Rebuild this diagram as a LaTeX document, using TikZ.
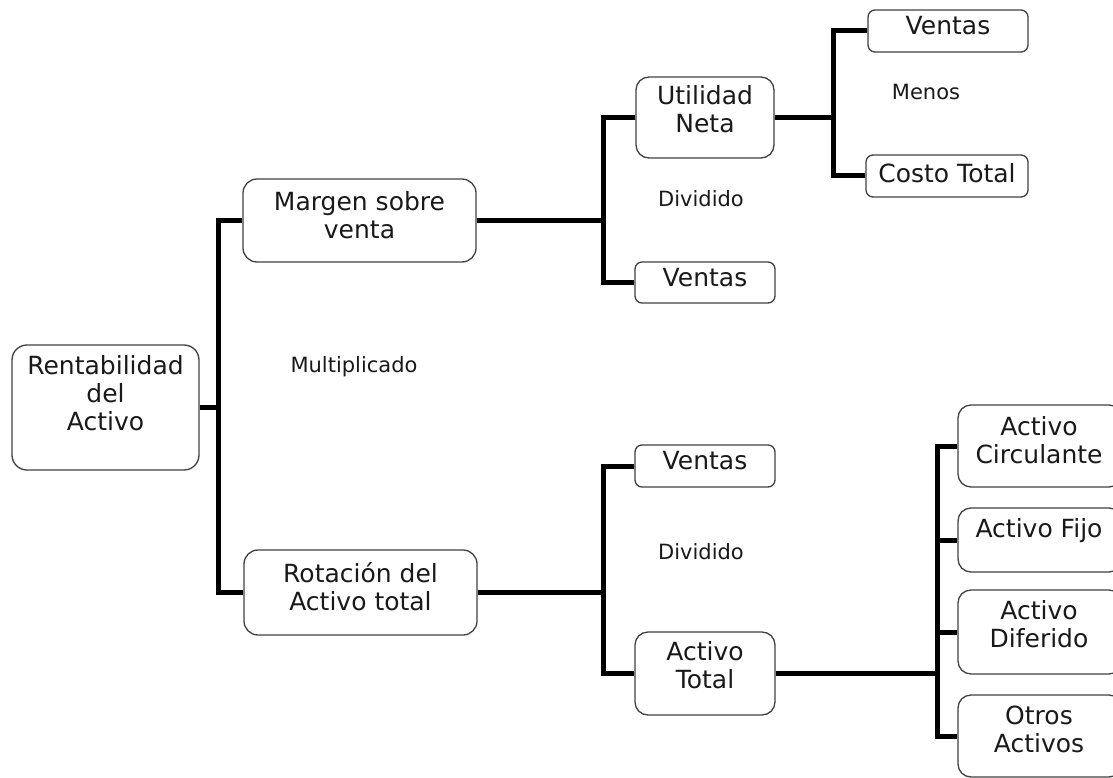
\documentclass[tikz,border=0pt]{standalone}
\usepackage{fontspec}
\setmainfont{DejaVu Sans}
\begin{document}
\begin{tikzpicture}[x=1pt,y=-1pt,
  box/.style={draw=black!75,line width=1.3pt,inner sep=0pt,rectangle},
  txt/.style={inner sep=0pt,anchor=north,align=center,font=\fontsize{25}{28}\selectfont,text=black!90},
  lbl/.style={inner sep=0pt,anchor=base,font=\fontsize{21}{24}\selectfont,text=black!90},
  conn/.style={line width=5pt,black}]
\useasboundingbox (0,0) rectangle (1113,778);
\clip (0,0) rectangle (1113,778);
% boxes
\node[box,rounded corners=15pt,minimum width=187pt,minimum height=125pt] (rent) at (105.5,407.5) {};
\node[box,rounded corners=14pt,minimum width=233pt,minimum height=83pt] (margen) at (359.5,220.5) {};
\node[box,rounded corners=14pt,minimum width=233pt,minimum height=85pt] (rot) at (360.5,592.5) {};
\node[box,rounded corners=13pt,minimum width=138pt,minimum height=81pt] (util) at (705,117.5) {};
\node[box,rounded corners=7pt,minimum width=140pt,minimum height=41pt] (ventasA) at (705,282.5) {};
\node[box,rounded corners=7pt,minimum width=140pt,minimum height=42pt] (ventasB) at (705,466) {};
\node[box,rounded corners=13pt,minimum width=140pt,minimum height=83pt] (atotal) at (705,673.5) {};
\node[box,rounded corners=7pt,minimum width=160pt,minimum height=42pt] (ventasC) at (948,31) {};
\node[box,rounded corners=7pt,minimum width=162pt,minimum height=42pt] (costo) at (947,176) {};
\node[box,rounded corners=13pt,minimum width=164pt,minimum height=82pt] (circ) at (1040,446) {};
\node[box,rounded corners=13pt,minimum width=164pt,minimum height=64pt] (fijo) at (1040,540) {};
\node[box,rounded corners=13pt,minimum width=164pt,minimum height=84pt] (dif) at (1040,632) {};
\node[box,rounded corners=13pt,minimum width=164pt,minimum height=82pt] (otros) at (1040,736) {};
% texts
\node[txt] (rent-t) at ([yshift=-11pt]rent.north) {Rentabilidad\\del\\Activo};
\node[txt] (margen-t) at ([yshift=-13pt]margen.north) {Margen sobre\\venta};
\node[txt] (rot-t) at ([yshift=-13pt]rot.north) {Rotación del\\Activo total};
\node[txt] (util-t) at ([yshift=-9pt]util.north) {Utilidad\\Neta};
\node[txt] (ventasA-t) at ([yshift=-7pt]ventasA.north) {Ventas};
\node[txt] (ventasB-t) at ([yshift=-7pt]ventasB.north) {Ventas};
\node[txt] (atotal-t) at ([yshift=-10pt]atotal.north) {Activo\\Total};
\node[txt] (ventasC-t) at ([yshift=-7pt]ventasC.north) {Ventas};
\node[txt] (costo-t) at ([yshift=-9pt]costo.north) {Costo Total};
\node[txt] (circ-t) at ([yshift=-12pt,xshift=-1pt]circ.north) {Activo\\Circulante};
\node[txt] (fijo-t) at ([yshift=-11pt,xshift=-1pt]fijo.north) {Activo Fijo};
\node[txt] (dif-t) at ([yshift=-11pt,xshift=-1pt]dif.north) {Activo\\Diferido};
\node[txt] (otros-t) at ([yshift=-11pt,xshift=-1pt]otros.north) {Otros\\Activos};
% labels
\node[lbl] (mult) at (354,372) {Multiplicado};
\node[lbl] (div1) at (701,207) {Dividido};
\node[lbl] (div2) at (701,559) {Dividido};
\node[lbl] (menos) at (926,100) {Menos};
% connectors
\coordinate (t1) at (218,0);
\coordinate (t2) at (603,0);
\coordinate (t3) at (833,0);
\coordinate (t4) at (937,0);
\draw[conn] (rent.east) -- (rent.east -| t1);
\draw[conn] (margen.west) -- (margen.west -| t1) -- (rot.west -| t1) -- (rot.west);
\draw[conn] (margen.east) -- (margen.east -| t2);
\draw[conn] (util.west) -- (util.west -| t2) -- (ventasA.west -| t2) -- (ventasA.west);
\draw[conn] (rot.east) -- (rot.east -| t2);
\draw[conn] (ventasB.west) -- (ventasB.west -| t2) -- (atotal.west -| t2) -- (atotal.west);
\draw[conn] (util.east) -- (util.east -| t3);
\draw[conn] (ventasC.west) -- (ventasC.west -| t3) -- (costo.west -| t3) -- (costo.west);
\draw[conn] (atotal.east) -- (atotal.east -| t4);
\draw[conn] (circ.west) -- (circ.west -| t4) -- (otros.west -| t4) -- (otros.west);
\draw[conn] (fijo.west -| t4) -- (fijo.west);
\draw[conn] (dif.west -| t4) -- (dif.west);
\end{tikzpicture}
\end{document}
